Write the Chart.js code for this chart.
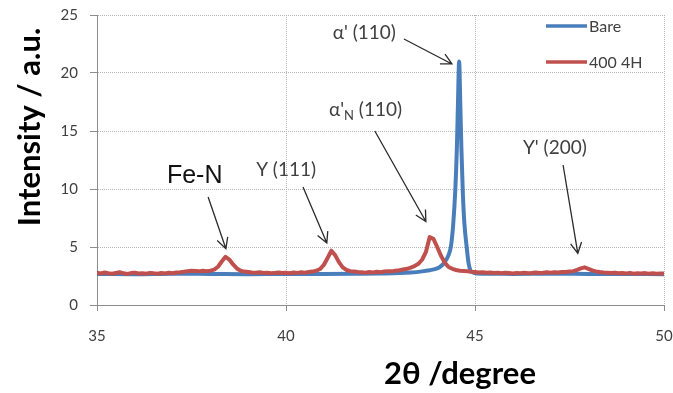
<!DOCTYPE html>
<html>
<head>
<meta charset="utf-8">
<script src="https://cdn.jsdelivr.net/npm/chart.js@4"></script>
<style>
  html, body { margin: 0; padding: 0; background: #fff; }
  #wrap { width: 673px; height: 393px; }
</style>
</head>
<body>
<div id="wrap"><canvas id="xrdChart" width="673" height="393"></canvas></div>
<script>
// 2theta positions of the nitrided scan (0.1 degree steps)
const nitrided2Theta = [
  35.0, 35.1, 35.2, 35.3, 35.4, 35.5, 35.6, 35.7, 35.8, 35.9,
  36.0, 36.1, 36.2, 36.3, 36.4, 36.5, 36.6, 36.7, 36.8, 36.9,
  37.0, 37.1, 37.2, 37.3, 37.4, 37.5, 37.6, 37.7, 37.8, 37.9,
  38.0, 38.1, 38.2, 38.3, 38.4, 38.5, 38.6, 38.7, 38.8, 38.9,
  39.0, 39.1, 39.2, 39.3, 39.4, 39.5, 39.6, 39.7, 39.8, 39.9,
  40.0, 40.1, 40.2, 40.3, 40.4, 40.5, 40.6, 40.7, 40.8, 40.9,
  41.0, 41.1, 41.2, 41.3, 41.4, 41.5, 41.6, 41.7, 41.8, 41.9,
  42.0, 42.1, 42.2, 42.3, 42.4, 42.5, 42.6, 42.7, 42.8, 42.9,
  43.0, 43.1, 43.2, 43.3, 43.4, 43.5, 43.6, 43.7, 43.8, 43.9,
  44.0, 44.1, 44.2, 44.3, 44.4, 44.5, 44.6, 44.7, 44.8, 44.9,
  45.0, 45.1, 45.2, 45.3, 45.4, 45.5, 45.6, 45.7, 45.8, 45.9,
  46.0, 46.1, 46.2, 46.3, 46.4, 46.5, 46.6, 46.7, 46.8, 46.9,
  47.0, 47.1, 47.2, 47.3, 47.4, 47.5, 47.6, 47.7, 47.8, 47.9,
  48.0, 48.1, 48.2, 48.3, 48.4, 48.5, 48.6, 48.7, 48.8, 48.9,
  49.0, 49.1, 49.2, 49.3, 49.4, 49.5, 49.6, 49.7, 49.8, 49.9,
  50.0
];
// intensity of the 400 4H sample
const nitridedIntensity = [
  2.78, 2.72, 2.80, 2.74, 2.70, 2.76, 2.82, 2.73, 2.68, 2.75,
  2.79, 2.71, 2.74, 2.69, 2.77, 2.73, 2.70, 2.76, 2.72, 2.78,
  2.74, 2.80, 2.82, 2.86, 2.92, 2.96, 2.93, 2.90, 2.95, 2.92,
  2.96, 3.05, 3.30, 3.75, 4.15, 3.92, 3.50, 3.15, 2.95, 2.88,
  2.84, 2.80, 2.78, 2.82, 2.76, 2.79, 2.74, 2.77, 2.80, 2.75,
  2.78, 2.74, 2.80, 2.77, 2.82, 2.79, 2.85, 2.88, 2.95, 3.10,
  3.45, 4.05, 4.68, 4.30, 3.70, 3.25, 3.02, 2.92, 2.88, 2.84,
  2.82, 2.79, 2.84, 2.81, 2.86, 2.83, 2.88, 2.92, 2.90, 2.96,
  3.00, 3.06, 3.12, 3.22, 3.35, 3.55, 3.90, 4.55, 5.85, 5.70,
  5.00, 4.25, 3.65, 3.28, 3.12, 3.02, 2.96, 2.93, 2.90, 2.86,
  2.84, 2.80, 2.83, 2.78, 2.81, 2.76, 2.79, 2.74, 2.78, 2.75,
  2.72, 2.77, 2.74, 2.79, 2.73, 2.76, 2.80, 2.75, 2.78, 2.82,
  2.79, 2.83, 2.80, 2.85, 2.84, 2.88, 2.92, 3.02, 3.15, 3.25,
  3.12, 2.98, 2.90, 2.84, 2.80, 2.78, 2.75, 2.79, 2.73, 2.76,
  2.72, 2.77, 2.70, 2.74, 2.71, 2.75, 2.69, 2.73, 2.70, 2.72,
  2.71
];

// bare substrate scan, sampled finer around the alpha' (110) reflection
const bare2Theta = [
  35.0, 36.0, 37.0, 38.0, 39.0, 40.0, 41.0, 42.0, 42.5, 43.0,
  43.3, 43.6, 43.8, 44.0, 44.1, 44.2, 44.3, 44.36, 44.42, 44.48,
  44.52, 44.55, 44.58, 44.61, 44.64, 44.68, 44.72, 44.78, 44.83, 44.88,
  44.95, 45.05, 45.5, 46.0, 47.0, 48.0, 49.0, 50.0
];
const bareIntensity = [
  2.68, 2.66, 2.70, 2.68, 2.66, 2.68, 2.67, 2.70, 2.72, 2.75,
  2.80, 2.90, 3.00, 3.15, 3.35, 3.70, 4.30, 5.00, 6.80, 10.0,
  13.5, 17.5, 21.0, 17.5, 13.5, 9.50, 7.00, 5.00, 3.60, 3.00,
  2.80, 2.72, 2.70, 2.68, 2.70, 2.68, 2.67, 2.66
];

const seriesNames = ['Bare', '400 4H'];
const xTicks = [35, 40, 45, 50];
const yTicks = [0, 5, 10, 15, 20, 25];

// peak labels with arrows, anchored in data coordinates
const peakNotes = [
  { parts: [["α' (110)"]], at: [41.24, 23.45], from: [43.12, 22.93], to: [44.39, 20.78] },
  { parts: [["α'"], ['N', 'sub'], [' (110)']], at: [41.14, 16.81], from: [42.35, 15.0], to: [43.70, 7.2] },
  { parts: [["Y' (200)"]], at: [46.27, 13.53], from: [47.33, 12.07], to: [47.72, 4.45] },
  { parts: [['Y (111)']], at: [39.21, 11.64], from: [40.45, 10.17], to: [41.08, 5.34] },
  { parts: [['Fe-N']], at: [36.85, 11.12], from: [37.94, 9.31], to: [38.41, 4.85], big: true }
];

function toPoints(xs, ys) {
  return xs.map((x, i) => ({ x: x, y: ys[i] }));
}

const textGrey = '#404040';

const overlay = {
  id: 'overlay',
  afterDraw(chart) {
    const ctx = chart.ctx;
    const xs = chart.scales.x;
    const ys = chart.scales.y;
    const area = chart.chartArea;
    ctx.save();

    // arrows and peak names
    peakNotes.forEach(n => {
      const x1 = xs.getPixelForValue(n.from[0]), y1 = ys.getPixelForValue(n.from[1]);
      const x2 = xs.getPixelForValue(n.to[0]), y2 = ys.getPixelForValue(n.to[1]);
      ctx.strokeStyle = '#2b2b2b';
      ctx.lineWidth = 1.3;
      ctx.beginPath();
      ctx.moveTo(x1, y1);
      ctx.lineTo(x2, y2);
      const ang = Math.atan2(y2 - y1, x2 - x1);
      const len = 12, spread = 0.48;
      ctx.moveTo(x2 - len * Math.cos(ang - spread), y2 - len * Math.sin(ang - spread));
      ctx.lineTo(x2, y2);
      ctx.lineTo(x2 - len * Math.cos(ang + spread), y2 - len * Math.sin(ang + spread));
      ctx.stroke();

      let tx = xs.getPixelForValue(n.at[0]);
      const ty = ys.getPixelForValue(n.at[1]);
      ctx.fillStyle = n.big ? '#111' : textGrey;
      ctx.textBaseline = 'middle';
      ctx.textAlign = 'left';
      n.parts.forEach(p => {
        if (p[1] === 'sub') {
          ctx.font = '13px Lato';
          ctx.fillText(p[0], tx, ty + 6);
        } else {
          ctx.font = n.big ? '25px "Liberation Sans"' : '19px Lato';
          ctx.fillText(p[0], tx, ty);
        }
        tx += ctx.measureText(p[0]).width;
      });
    });

    // legend in the upper right corner of the plot
    chart.data.datasets.forEach((ds, i) => {
      const ly = area.top + 11 + i * 36;
      ctx.strokeStyle = ds.borderColor;
      ctx.lineWidth = 3.5;
      ctx.beginPath();
      ctx.moveTo(area.right - 118, ly);
      ctx.lineTo(area.right - 77, ly);
      ctx.stroke();
      ctx.fillStyle = textGrey;
      ctx.font = '16px Lato';
      ctx.textAlign = 'left';
      ctx.textBaseline = 'middle';
      ctx.fillText(ds.label, area.right - 75, ly + 1);
    });

    // axis titles
    ctx.fillStyle = '#000';
    ctx.textAlign = 'center';
    ctx.textBaseline = 'middle';
    ctx.font = 'bold 31px Lato';
    ctx.save();
    ctx.translate(30, 127);
    ctx.rotate(-Math.PI / 2);
    ctx.fillText('Intensity / a.u.', 0, 0);
    ctx.restore();
    ctx.font = 'bold 31px Lato';
    ctx.fillText('2θ /degree', 460, 374);

    ctx.restore();
  }
};

// keep the axes from reserving extra room for overhanging tick labels
function noOverhang(axis) {
  axis.paddingLeft = 0;
  axis.paddingRight = 0;
  axis.paddingTop = 0;
  axis.paddingBottom = 0;
}

const ctx = document.getElementById('xrdChart').getContext('2d');
new Chart(ctx, {
  type: 'line',
  data: {
    datasets: [
      {
        label: seriesNames[0],
        data: toPoints(bare2Theta, bareIntensity),
        borderColor: '#4a7ebb',
        borderWidth: 4,
        cubicInterpolationMode: 'monotone',
        order: 1
      },
      {
        label: seriesNames[1],
        data: toPoints(nitrided2Theta, nitridedIntensity),
        borderColor: '#c0504d',
        borderWidth: 4,
        order: 0
      }
    ]
  },
  options: {
    responsive: false,
    animation: false,
    layout: { padding: { left: 0, right: 9, top: 15, bottom: 0 } },
    elements: {
      point: { radius: 0 },
      line: { tension: 0, borderJoinStyle: 'round', borderCapStyle: 'round' }
    },
    plugins: {
      legend: { display: false },
      tooltip: { enabled: false }
    },
    scales: {
      x: {
        type: 'linear',
        min: 35,
        max: 50,
        afterBuildTicks: axis => { axis.ticks = xTicks.map(v => ({ value: v })); },
        afterFit: axis => { axis.height = 88; noOverhang(axis); },
        ticks: { color: textGrey, font: { family: 'Lato', size: 15 }, padding: 16, maxRotation: 0 },
        grid: { color: '#b4b4b4', tickColor: '#8c8c8c', tickLength: 6, tickBorderDash: [] },
        border: { color: '#8c8c8c', width: 1, dash: [1, 1] }
      },
      y: {
        min: 0,
        max: 25,
        afterBuildTicks: axis => { axis.ticks = yTicks.map(v => ({ value: v })); },
        afterFit: axis => { axis.width = 97; noOverhang(axis); },
        ticks: { color: textGrey, font: { family: 'Lato', size: 15 }, padding: 12 },
        grid: { color: '#b4b4b4', tickColor: '#8c8c8c', tickLength: 7, tickBorderDash: [] },
        border: { color: '#8c8c8c', width: 1, dash: [1, 1] }
      }
    }
  },
  plugins: [overlay]
});
</script>
</body>
</html>
